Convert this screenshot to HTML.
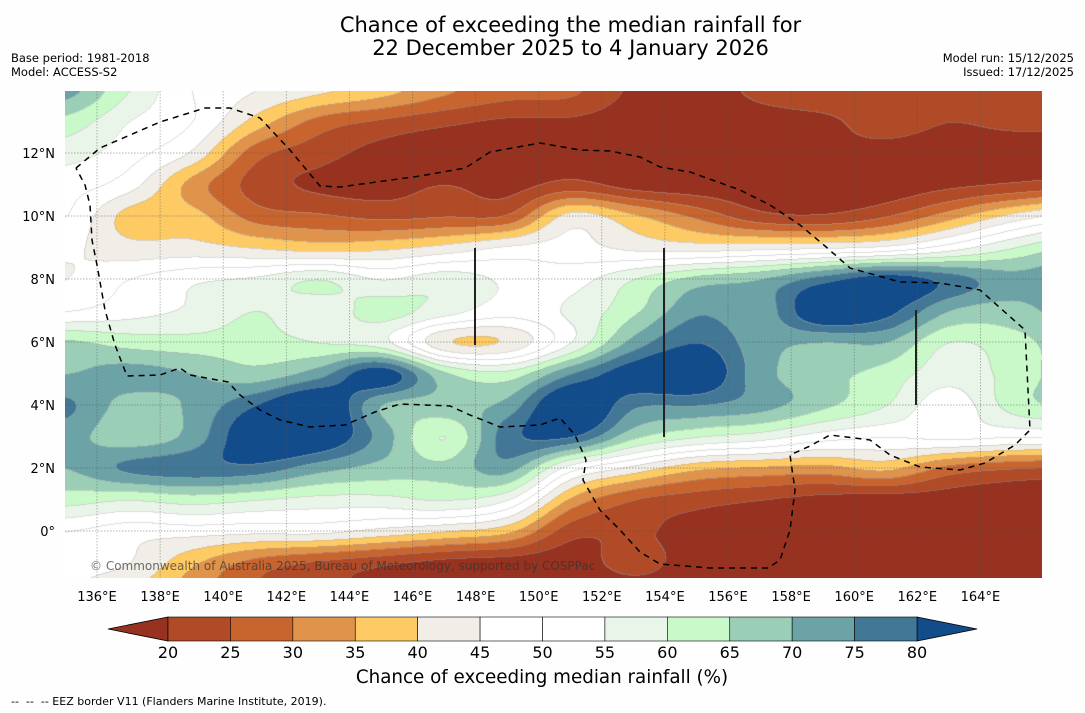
<!DOCTYPE html>
<html><head><meta charset="utf-8">
<style>
body{margin:0;background:#fefefe;width:1085px;height:713px;overflow:hidden;font-family:"DejaVu Sans","Liberation Sans",sans-serif;}
.t{position:absolute;white-space:nowrap;color:#000}
</style></head><body>
<div style="position:relative;width:1085px;height:713px">
<div class="t" style="left:0;width:1141px;top:14px;text-align:center;font-size:21px;line-height:23px">Chance of exceeding the median rainfall for<br>22 December 2025 to 4 January 2026</div>
<div class="t" style="left:11px;top:51px;font-size:11.5px;line-height:14px">Base period: 1981-2018<br>Model: ACCESS-S2</div>
<div class="t" style="right:11px;top:51px;font-size:11.5px;line-height:14px;text-align:right">Model run: 15/12/2025<br>Issued: 17/12/2025</div>
<canvas id="map" width="977" height="487" style="position:absolute;left:65px;top:91px"></canvas>
<svg id="ov" width="1085" height="713" style="position:absolute;left:0;top:0"></svg>
<div class="t" style="left:292px;width:500px;text-align:center;top:667px;font-size:18.3px">Chance of exceeding median rainfall (%)</div>
<div class="t" style="left:11px;top:695px;font-size:11px">--&nbsp; --&nbsp; -- EEZ border V11 (Flanders Marine Institute, 2019).</div>
</div>
<script>
const lonStart=135, lonStep=2, latStart=14, latStep=-1;
const levels=[20,25,30,35,40,45,50,55,60,65,70,75,80];
const colors=['#96321f','#b04a27','#c8642e','#e0934a','#fdca63','#f1ede7','#ffffff','#ffffff','#eaf5ea','#c9f9c8','#9bceb7','#6ba3a6','#427896','#124c8b'];
const latTicks=[12,10,8,6,4,2,0];
const lonTicks=[136,138,140,142,144,146,148,150,152,154,156,158,160,162,164];
// rows: lat 14 .. -2 ; cols: lon 135..167 step 2
const grid=[
[72,60,50,45,41,37,31,27,26,19,18,21,23,22,22,21,21],
[63,55,50,38,28,24,21,19,19,17,17,18,19,22,20,21,21],
[57,52,44,27,22,18,16,16,17,16,16,17,19,18,17,17,17],
[52,47,33,23,19,18,20,18,22,18,17,17,18,17,19,21,23],
[50,38,37,28,26,24,25,26,42,36,29,22,21,25,33,42,48],
[46,42,42,40,38,39,42,46,47,44,43,44,45,47,53,60,66],
[45,50,54,56,60,55,58,54,53,60,67,70,78,84,78,72,75],
[50,53,56,60,57,62,57,52,56,64,74,72,86,82,70,68,73],
[66,63,62,62,60,57,41,41,55,72,80,72,70,70,60,63,68],
[70,72,70,67,73,84,66,62,75,84,86,72,67,63,57,62,68],
[76,68,71,80,88,70,68,72,88,76,75,72,66,60,52,62,66],
[72,67,72,86,86,73,60,78,80,66,60,57,52,50,51,50,50],
[70,76,78,78,72,68,66,72,52,43,36,34,33,36,28,25,24],
[62,60,62,60,58,58,60,55,34,25,22,20,18,17,17,16,16],
[50,47,47,46,46,43,40,36,22,21,18,17,16,16,16,16,16],
[46,45,36,28,24,21,18,17,17,22,17,16,16,16,16,16,16],
[46,40,32,25,22,19,17,17,16,16,16,16,16,16,16,16,16]
];
function xOf(lon){return 97+(lon-136)*31.55;}
function yOf(lat){return 531-lat*31.5;}
function cr(p0,p1,p2,p3,t){return 0.5*((2*p1)+(-p0+p2)*t+(2*p0-5*p1+4*p2-p3)*t*t+(-p0+3*p1-3*p2+p3)*t*t*t);}
const R=grid.length,C=grid[0].length;
function g(r,c){r=Math.max(0,Math.min(R-1,r));c=Math.max(0,Math.min(C-1,c));return grid[r][c];}
function val(lon,lat){
 const fc=(lon-lonStart)/lonStep, fr=(lat-latStart)/latStep;
 const c=Math.floor(fc), r=Math.floor(fr), tc=fc-c, tr=fr-r;
 const rows=[];
 for(let i=-1;i<=2;i++) rows.push(cr(g(r+i,c-1),g(r+i,c),g(r+i,c+1),g(r+i,c+2),tc));
 return cr(rows[0],rows[1],rows[2],rows[3],tr);
}
function cls(v){let k=0;for(const l of levels){if(v>=l)k++;}return k;}
function hex(h){return [parseInt(h.substr(1,2),16),parseInt(h.substr(3,2),16),parseInt(h.substr(5,2),16)];}
const rgb=colors.map(hex);
const cv=document.getElementById('map'),ctx=cv.getContext('2d');
const W=cv.width,H=cv.height,img=ctx.createImageData(W,H);
const K=new Uint8Array(W*H);
for(let py=0;py<H;py++){const lat=(531-(py+91))/31.5;
 for(let px=0;px<W;px++){const lon=136+((px+65)-97)/31.55;K[py*W+px]=cls(val(lon,lat));}}
for(let py=0;py<H;py++)for(let px=0;px<W;px++){
 const i=py*W+px,k=K[i];let c=rgb[k].slice();
 const b=(px>0&&K[i-1]!==k)||(py>0&&K[i-W]!==k);
 if(b){c=c.map(v=>Math.round(v*0.6+170*0.4));}
 img.data[i*4]=c[0];img.data[i*4+1]=c[1];img.data[i*4+2]=c[2];img.data[i*4+3]=255;}
ctx.putImageData(img,0,0);

const NS='http://www.w3.org/2000/svg',svg=document.getElementById('ov');
const FF='DejaVu Sans, Liberation Sans, sans-serif';
function mk(tag,at,txt){const e=document.createElementNS(NS,tag);for(const k in at)e.setAttribute(k,at[k]);if(txt!==undefined)e.textContent=txt;svg.appendChild(e);return e;}
for(const lon of lonTicks){const e=mk('line',{x1:xOf(lon),x2:xOf(lon),y1:91,y2:578,stroke:'#555','stroke-width':0.7,'stroke-dasharray':'1.5,1.5',opacity:0.6});
 
 
 const t=mk('text',{x:xOf(lon),y:601,'font-size':13,'text-anchor':'middle','font-family':FF},lon+'°E');
 
 }
for(const lat of latTicks){const e=mk('line',{x1:65,x2:1042,y1:yOf(lat),y2:yOf(lat),stroke:'#555','stroke-width':0.7,'stroke-dasharray':'1.5,1.5',opacity:0.6});
 
 
 const t=mk('text',{x:55,y:yOf(lat)+5,'font-size':13,'text-anchor':'end','font-family':FF},lat===0?'0°':lat+'°N');
 
 }
const eez=[[76,168],[100,148],[160,122],[205,108],[230,108],[260,118],[290,150],[320,186],[340,187],[420,176],[465,168],[470,165],[490,152],[540,143],[580,150],[610,151],[640,157],[660,167],[690,172],[740,190],[770,205],[800,225],[825,246],[850,268],[900,282],[940,283],[980,290],[1025,330],[1030,430],[1015,445],[985,463],[960,470],[920,467],[890,455],[870,440],[830,435],[810,446],[790,455],[795,490],[790,530],[780,560],[768,568],[710,568],[660,564],[640,552],[620,530],[600,510],[583,480],[586,460],[575,435],[560,418],[540,425],[500,427],[470,415],[450,406],[400,404],[375,412],[345,425],[310,427],[280,420],[260,410],[240,395],[228,382],[190,375],[180,368],[160,375],[127,376],[115,345],[105,310],[97,265],[92,240],[90,205],[85,185],[76,168]];
const pl=mk('polyline',{points:eez.map(p=>p.join(',')).join(' '),fill:'none',stroke:'#000','stroke-width':1.5,'stroke-dasharray':'6,5'});


for(const l of [[475,248,475,345],[664,248,664,437],[916,310,916,405]]){const e=mk('line',{x1:l[0],y1:l[1],x2:l[2],y2:l[3],stroke:'#222','stroke-width':2});
 
 }
const cp=mk('text',{x:90,y:570,'font-size':12,fill:'#333',opacity:0.7,'font-family':FF},'© Commonwealth of Australia 2025, Bureau of Meteorology, supported by COSPPac');


const cbL=168,cbR=917,cbT=617,cbB=641,bw=(cbR-cbL)/12;
const lt=mk('polygon',{points:`${cbL},${cbT} 108,${(cbT+cbB)/2} ${cbL},${cbB}`,fill:colors[0],stroke:'#000','stroke-width':0.8});


const rt=mk('polygon',{points:`${cbR},${cbT} 977,${(cbT+cbB)/2} ${cbR},${cbB}`,fill:colors[13],stroke:'#000','stroke-width':0.8});


for(let i=0;i<12;i++){const e=mk('rect',{x:cbL+i*bw,y:cbT,width:bw,height:cbB-cbT,fill:colors[i+1],stroke:'#000','stroke-width':0.6});
 
 }
levels.forEach((l,i)=>{const t=mk('text',{x:cbL+i*bw,y:658,'font-size':16,'text-anchor':'middle','font-family':FF},String(l));
 
 });
</script>
</body></html>
